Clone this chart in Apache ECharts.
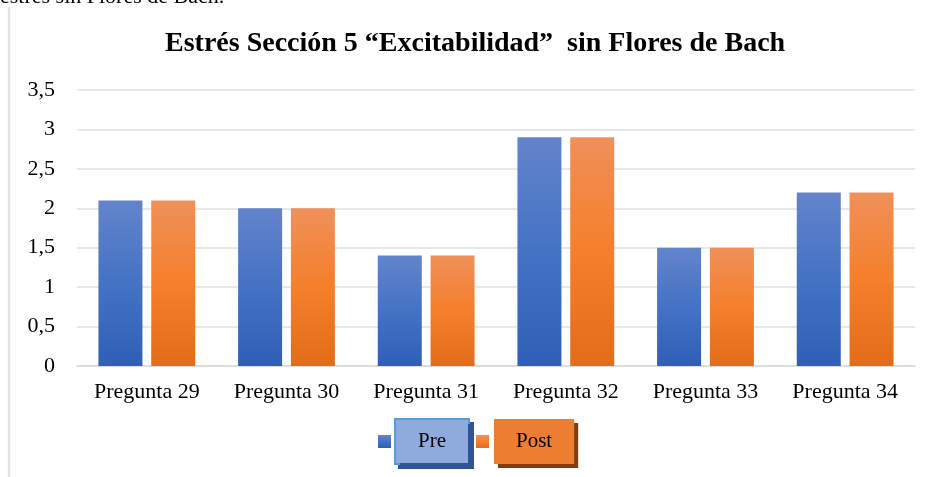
<!DOCTYPE html>
<html>
<head>
<meta charset="utf-8">
<script src="https://cdn.jsdelivr.net/npm/echarts@6/dist/echarts.min.js"></script>
<style>
  html, body { margin: 0; padding: 0; background: #fff; }
  #chart { width: 928px; height: 477px; }
</style>
</head>
<body>
<div id="chart"></div>
<script>
const categories = ["Pregunta 29", "Pregunta 30", "Pregunta 31", "Pregunta 32", "Pregunta 33", "Pregunta 34"];
const preValues = [2.1, 2.0, 1.4, 2.9, 1.5, 2.2];
const postValues = [2.1, 2.0, 1.4, 2.9, 1.5, 2.2];

const serif = "'Liberation Serif', 'DejaVu Serif', serif";

function grad(top, mid, bottom) {
  return new echarts.graphic.LinearGradient(0, 0, 0, 1, [
    { offset: 0, color: top },
    { offset: 0.5, color: mid },
    { offset: 1, color: bottom }
  ]);
}

const chart = echarts.init(document.getElementById("chart"));
chart.setOption({
  animation: false,
  backgroundColor: "#fff",
  title: {
    text: "Estrés Sección 5 “Excitabilidad”  sin Flores de Bach",
    left: 160,
    top: 25,
    textStyle: { fontFamily: serif, fontSize: 28, fontWeight: "bold", color: "#000" }
  },
  graphic: [
    {
      type: "text",
      x: 0,
      y: 8,
      style: { text: "estrés sin Flores de Bach.", font: "22px " + serif, fill: "#000", verticalAlign: "bottom" }
    },
    {
      type: "line",
      shape: { x1: 9, y1: 7, x2: 9, y2: 477 },
      style: { stroke: "#e1e4e8", lineWidth: 2.5 }
    }
  ],
  legend: {
    left: 378,
    top: 418,
    padding: 0,
    itemWidth: 13,
    itemHeight: 13,
    itemGap: 6,
    icon: "rect",
    data: [
      {
        name: "Pre",
        textStyle: {
          backgroundColor: "#8faadc",
          borderColor: "#5b9bd5",
          borderWidth: 2,
          shadowColor: "#2f5597",
          shadowOffsetX: 4,
          shadowOffsetY: 4,
          padding: [11, 22]
        }
      },
      {
        name: "Post",
        textStyle: {
          backgroundColor: "#ed7d31",
          shadowColor: "#843c0c",
          shadowOffsetX: 4,
          shadowOffsetY: 4,
          padding: [12, 22]
        }
      }
    ],
    textStyle: { fontFamily: serif, fontSize: 21, color: "#000" }
  },
  grid: { left: 77, right: 13, top: 90, bottom: 111 },
  xAxis: {
    type: "category",
    data: categories,
    axisLine: { lineStyle: { color: "#d9d9d9", width: 1.5 } },
    axisTick: { show: false },
    axisLabel: { fontFamily: serif, fontSize: 22, color: "#000", margin: 15 }
  },
  yAxis: {
    type: "value",
    min: 0,
    max: 3.5,
    interval: 0.5,
    axisLine: { show: false },
    axisTick: { show: false },
    splitLine: { lineStyle: { color: "#dfe1e5", width: 1.5 } },
    axisLabel: {
      fontFamily: serif, fontSize: 22, color: "#000", margin: 22,
      formatter: v => String(v).replace(".", ",")
    }
  },
  series: [
    {
      name: "Pre",
      type: "bar",
      data: preValues,
      barWidth: "31.5%",
      barGap: "20%",
      itemStyle: { color: grad("#6384cb", "#4472c4", "#2f5fb6") }
    },
    {
      name: "Post",
      type: "bar",
      data: postValues,
      barWidth: "31.5%",
      itemStyle: { color: grad("#f0905a", "#f57f2a", "#e36c18") }
    }
  ]
});
</script>
</body>
</html>
